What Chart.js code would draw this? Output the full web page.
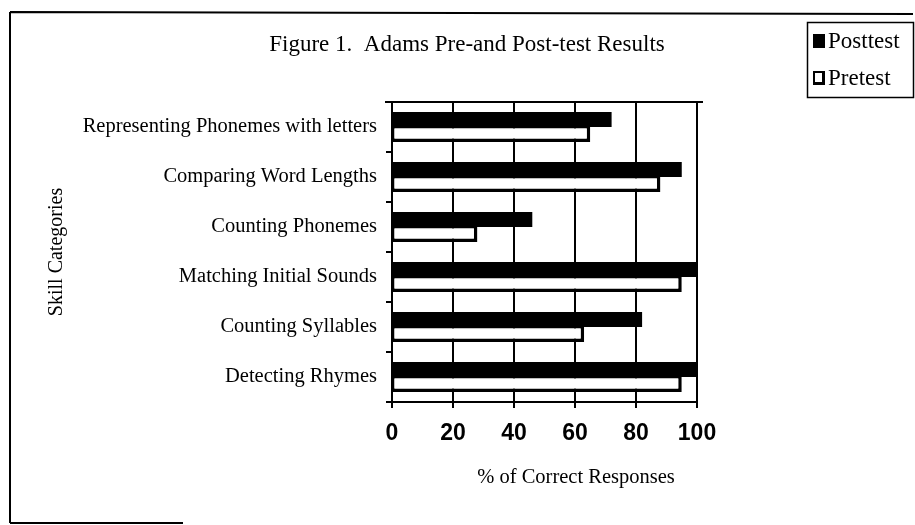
<!DOCTYPE html>
<html><head><meta charset="utf-8">
<script src="https://cdn.jsdelivr.net/npm/chart.js@4.4.1/dist/chart.umd.min.js"></script>
<style>html,body{margin:0;padding:0;background:#fff;}#wrap{width:915px;height:525px;position:relative;}</style>
</head><body><div id="wrap"><canvas id="c" width="915" height="525"></canvas></div>
<script>
const categories = ["Representing Phonemes with letters", "Comparing Word Lengths", "Counting Phonemes", "Matching Initial Sounds", "Counting Syllables", "Detecting Rhymes"];
const posttest = [72, 95, 46, 100, 82, 100];
const pretest = [65, 88, 28, 95, 63, 95];
const xTicks = [0, 20, 40, 60, 80, 100];
const seriesNames = ["Posttest", "Pretest"];
const chartTitle = "Figure 1.  Adams Pre-and Post-test Results";
const xTitle = "% of Correct Responses";
const yTitle = "Skill Categories";

const SERIF = "'Liberation Serif', 'Times New Roman', serif";
const SANS = "'Liberation Sans Narrow', 'Arial Narrow', 'Liberation Sans', Arial, sans-serif";

const decor = {
  id: 'decor',
  beforeDraw(chart) {
    const ctx = chart.ctx;
    ctx.save();
    ctx.fillStyle = '#fff';
    ctx.fillRect(0, 0, chart.width, chart.height);
    ctx.restore();
  },
  afterDraw(chart) {
    const ctx = chart.ctx;
    const a = chart.chartArea;
    ctx.save();
    ctx.strokeStyle = '#000';
    ctx.lineWidth = 2;
    // outer frame
    ctx.beginPath();
    ctx.moveTo(10, 12); ctx.lineTo(913, 14);
    ctx.moveTo(10, 12); ctx.lineTo(10, 523);
    ctx.moveTo(10, 523); ctx.lineTo(183, 523);
    ctx.stroke();
    // plot top line
    ctx.beginPath();
    ctx.moveTo(a.left - 7, a.top); ctx.lineTo(a.right + 6, a.top);
    ctx.stroke();
    // title
    ctx.fillStyle = '#000';
    ctx.font = "23px " + SERIF;
    ctx.textAlign = 'center';
    ctx.textBaseline = 'middle';
    ctx.fillText(chartTitle, 467, 45);
    // x axis title
    ctx.font = "20.5px " + SERIF;
    ctx.fillText(xTitle, 576, 478);
    // legend
    ctx.lineWidth = 1.5;
    ctx.strokeRect(807.5, 22.5, 106, 75);
    ctx.fillStyle = '#000';
    ctx.fillRect(813, 34, 12, 14);
    ctx.fillRect(813, 71, 12, 14);
    ctx.fillStyle = '#fff';
    ctx.fillRect(815, 73, 7, 9);
    ctx.fillStyle = '#000';
    ctx.font = "23px " + SERIF;
    ctx.textAlign = 'left';
    ctx.fillText(chart.data.datasets[0].label, 828, 42);
    ctx.fillText(chart.data.datasets[1].label, 828, 79);
    ctx.restore();
  }
};

new Chart(document.getElementById('c'), {
  type: 'bar',
  data: {
    labels: categories,
    datasets: [
      { label: seriesNames[0], data: posttest, backgroundColor: '#000', borderWidth: 0 },
      { label: seriesNames[1], data: pretest, backgroundColor: '#fff', borderColor: '#000',
        borderWidth: { top: 1.5, left: 1.5, right: 3.5, bottom: 3.5 }, borderSkipped: false }
    ]
  },
  options: {
    indexAxis: 'y',
    responsive: false,
    animation: false,
    devicePixelRatio: 1,
    layout: { padding: { left: 45, right: 218, top: 102, bottom: 35 } },
    datasets: { bar: { categoryPercentage: 0.6, barPercentage: 1.0 } },
    plugins: { legend: { display: false }, title: { display: false }, tooltip: { enabled: false } },
    scales: {
      x: {
        min: 0, max: 100,
        afterBuildTicks: s => { s.ticks = xTicks.map(v => ({ value: v })); },
        afterFit: s => { s.height = 88; },
        ticks: { color: '#000', padding: 12, font: { family: SANS, size: 23, weight: 'bold' } },
        grid: { color: '#000', lineWidth: 2, tickLength: 6, drawTicks: true },
        border: { color: '#000', width: 2 },
        title: { display: false }
      },
      y: {
        afterFit: s => { s.width = 392 - 45; },
        ticks: { color: '#000', padding: 9, font: { family: SERIF, size: 20.5 } },
        grid: { display: true, drawOnChartArea: false, drawTicks: true, tickLength: 6, color: '#000', lineWidth: 2 },
        border: { color: '#000', width: 2 },
        title: { display: true, text: yTitle, color: '#000', font: { family: SERIF, size: 20 }, padding: { top: 0, bottom: 0 } }
      }
    }
  },
  plugins: [decor]
});
</script></body></html>
